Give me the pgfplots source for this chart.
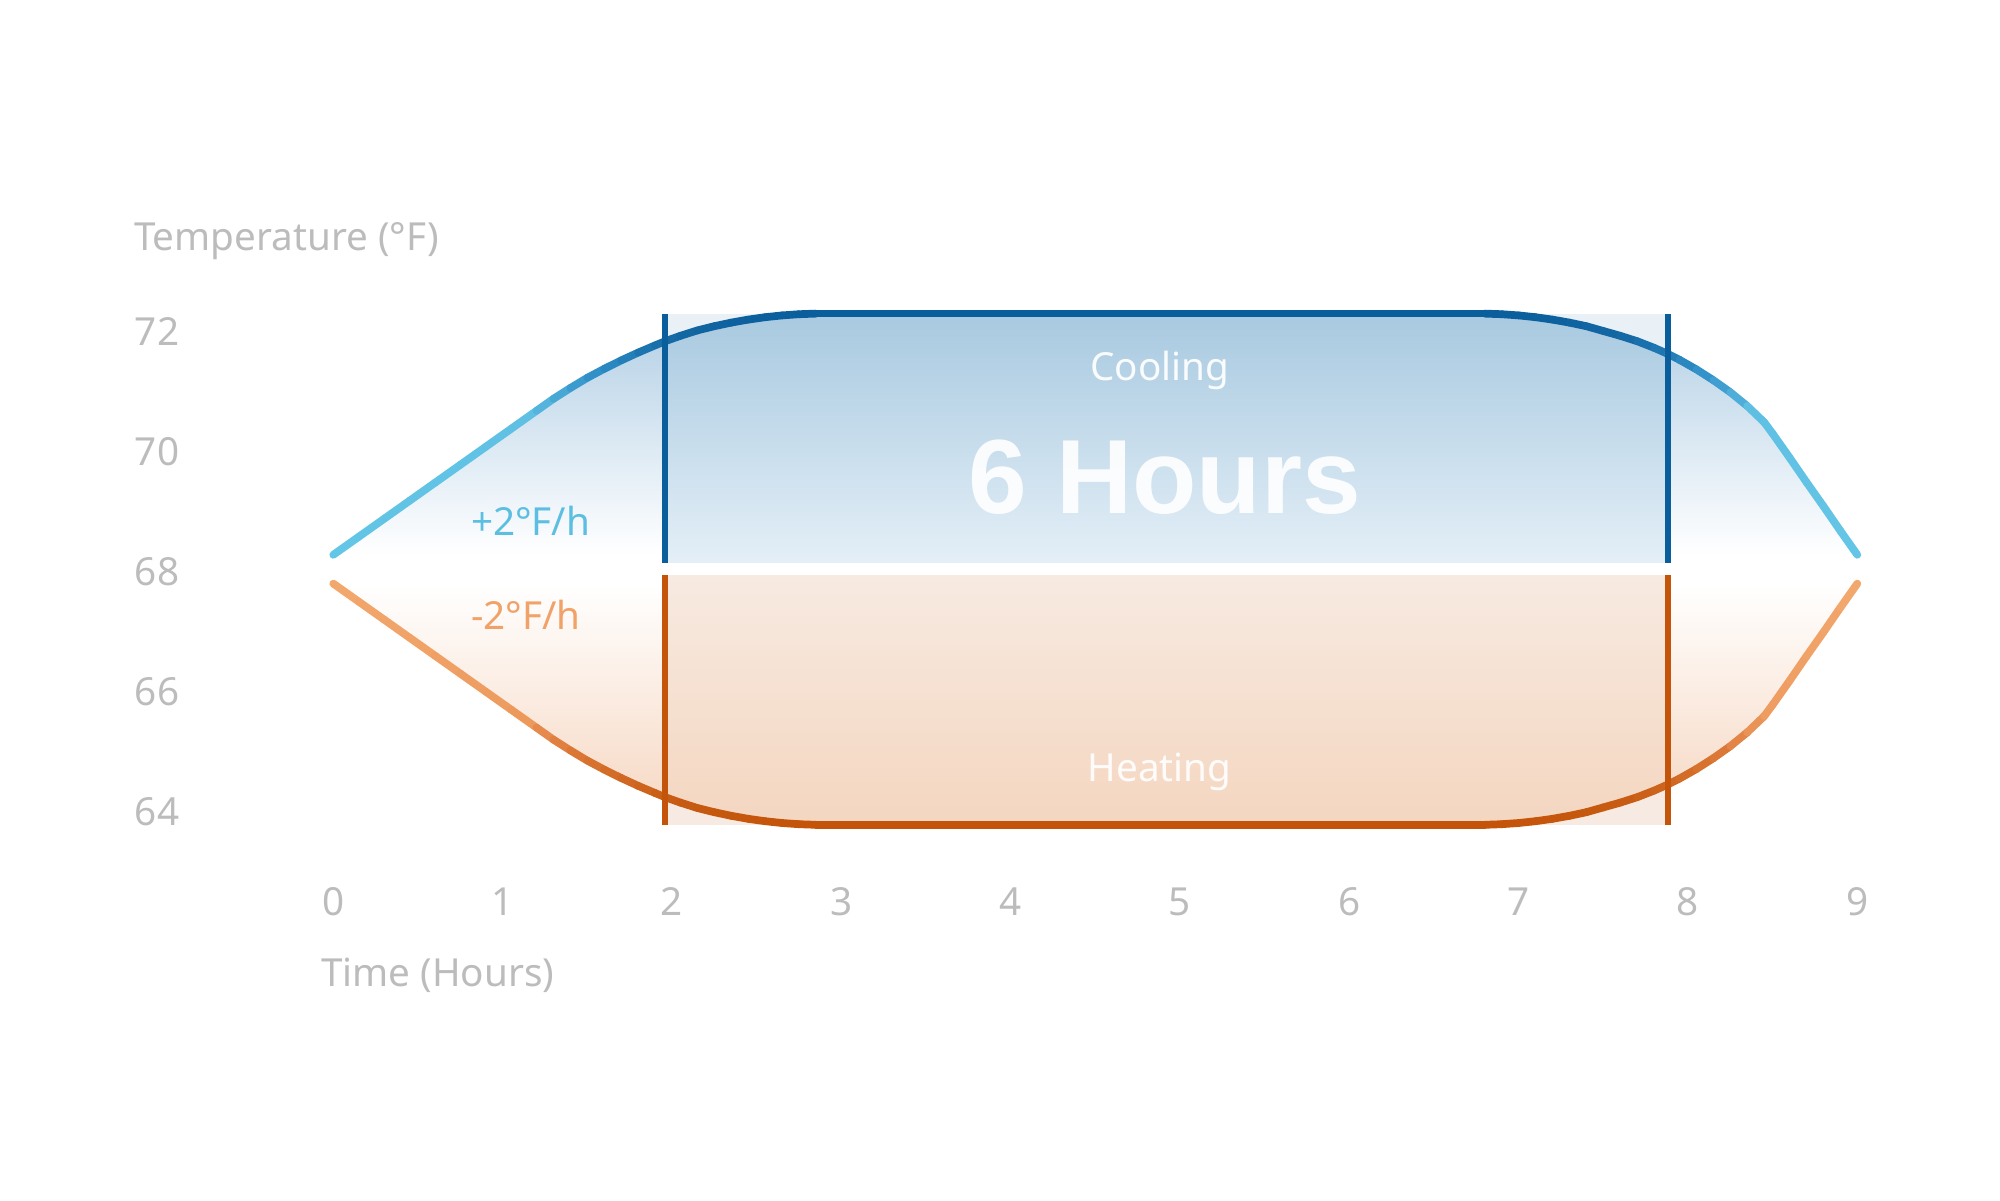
\documentclass[border=0pt]{standalone}
\usepackage{fontspec}
\setmainfont{Noto Sans}
\newfontfamily\headfont{Liberation Sans}
\usepackage{pgfplots}
\pgfplotsset{compat=1.18}

\definecolor{labelgray}{RGB}{188,188,188}
\definecolor{cooldark}{RGB}{10,94,156}
\definecolor{heatdark}{RGB}{196,84,10}
\definecolor{cooltext}{RGB}{92,190,225}
\definecolor{heattext}{RGB}{240,162,104}
\definecolor{coolsoft}{RGB}{178,207,229}
\definecolor{coolmid}{RGB}{222,236,246}
\definecolor{heatsoft}{RGB}{246,214,192}
\definecolor{heatmid}{RGB}{252,239,230}
\definecolor{coolbox}{RGB}{233,241,247}
\definecolor{heatbox}{RGB}{246,234,226}
\definecolor{cooltop}{RGB}{168,201,224}
\definecolor{coolbot}{RGB}{228,239,247}
\definecolor{heattop}{RGB}{247,234,225}
\definecolor{heatbot}{RGB}{244,214,192}

\pgfplotsset{
  colormap={coolline}{rgb255(0cm)=(100,198,230) rgb255(5.8cm)=(95,192,228) rgb255(7.5cm)=(50,145,200) rgb255(9cm)=(20,105,165) rgb255(10cm)=(10,94,156)},
  colormap={heatline}{rgb255(0cm)=(196,84,10) rgb255(1cm)=(200,92,20) rgb255(3cm)=(220,120,55) rgb255(4.5cm)=(238,155,95) rgb255(10cm)=(242,168,110)},
}

% temperature curves (hours, deg F)
\pgfplotstableread{
x y
0.00 68.28
0.15 68.58
0.30 68.88
0.45 69.18
0.60 69.48
0.75 69.78
0.90 70.08
1.05 70.38
1.20 70.68
1.30 70.88
1.40 71.06
1.50 71.23
1.60 71.38
1.70 71.52
1.80 71.65
1.90 71.77
1.96 71.84
2.05 71.93
2.15 72.02
2.25 72.09
2.35 72.15
2.45 72.20
2.55 72.24
2.65 72.27
2.75 72.29
2.85 72.30
4.85 72.30
6.80 72.30
6.90 72.29
7.00 72.27
7.10 72.24
7.20 72.20
7.30 72.15
7.40 72.09
7.50 72.01
7.60 71.93
7.70 71.84
7.80 71.73
7.88 71.63
7.95 71.53
8.05 71.37
8.15 71.19
8.25 70.99
8.35 70.76
8.45 70.49
8.50 70.30
8.60 69.90
8.70 69.49
8.80 69.09
8.90 68.68
9.00 68.28
}\cooling

\pgfplotstableread{
x y
0.00 67.80
0.15 67.50
0.30 67.20
0.45 66.90
0.60 66.60
0.75 66.30
0.90 66.00
1.05 65.70
1.20 65.40
1.30 65.20
1.40 65.02
1.50 64.85
1.60 64.70
1.70 64.56
1.80 64.43
1.90 64.31
1.96 64.24
2.05 64.15
2.15 64.06
2.25 63.99
2.35 63.93
2.45 63.88
2.55 63.84
2.65 63.81
2.75 63.79
2.85 63.78
4.85 63.78
6.80 63.78
6.90 63.79
7.00 63.81
7.10 63.84
7.20 63.88
7.30 63.93
7.40 63.99
7.50 64.07
7.60 64.15
7.70 64.24
7.80 64.35
7.88 64.45
7.95 64.55
8.05 64.71
8.15 64.89
8.25 65.09
8.35 65.32
8.45 65.59
8.50 65.78
8.60 66.18
8.70 66.59
8.80 66.99
8.90 67.40
9.00 67.80
}\heating

\begin{document}
\begin{tikzpicture}
\path[use as bounding box] (-3.333,-3.884) rectangle (16.667,8.116);
\begin{axis}[
    at={(0,0)}, anchor=south west,
    scale only axis,
    width=15.24cm, height=4.80cm,
    xmin=0, xmax=9, ymin=64, ymax=72,
    clip=false,
    axis x line*=bottom, axis y line*=left,
    axis line style={draw=none},
    tick style={draw=none},
    xtick={0,1,...,9},
    ytick={64,66,68,70,72},
    /pgf/number format/assume math mode=true,
    tick label style={font=\fontsize{11}{13}\selectfont, text=labelgray, inner sep=0pt},
    yticklabel style={anchor=west, xshift=-1.99cm},
    xticklabel style={anchor=center, yshift=-0.9cm},
]
% soft fills under the curves
\addplot[draw=none, top color=coolsoft, middle color=coolmid, bottom color=white] table[x=x, y=y] {\cooling};
\addplot[draw=none, top color=white, middle color=heatmid, bottom color=heatsoft] table[x=x, y=y] {\heating};

% six-hour boxes
\addplot[draw=none, fill=coolbox] coordinates {(1.96,68.15) (1.96,72.30) (7.88,72.30) (7.88,68.15)};
\addplot[draw=none, fill=heatbox] coordinates {(1.96,63.78) (1.96,67.94) (7.88,67.94) (7.88,63.78)};
\addplot[draw=none, top color=cooltop, bottom color=coolbot]
  coordinates {(1.96,68.15) (1.96,71.84) (2.05,71.93) (2.15,72.02) (2.25,72.09) (2.35,72.15)
  (2.45,72.20) (2.55,72.24) (2.65,72.27) (2.75,72.29) (2.85,72.30) (6.80,72.30) (6.90,72.29)
  (7.00,72.27) (7.10,72.24) (7.20,72.20) (7.30,72.15) (7.40,72.09) (7.50,72.01) (7.60,71.93)
  (7.70,71.84) (7.80,71.73) (7.88,71.63) (7.88,68.15)};
\addplot[draw=none, top color=heattop, bottom color=heatbot]
  coordinates {(1.96,67.94) (1.96,64.24) (2.05,64.15) (2.15,64.06) (2.25,63.99) (2.35,63.93)
  (2.45,63.88) (2.55,63.84) (2.65,63.81) (2.75,63.79) (2.85,63.78) (6.80,63.78) (6.90,63.79)
  (7.00,63.81) (7.10,63.84) (7.20,63.88) (7.30,63.93) (7.40,63.99) (7.50,64.07) (7.60,64.15)
  (7.70,64.24) (7.80,64.35) (7.88,64.45) (7.88,67.94)};

% curves, coloured by height
\addplot[mesh, colormap name=coolline, point meta=\thisrow{y}, point meta rel=per plot,
  point meta min=68.28, point meta max=72.3,
  line width=2.2pt, line cap=round, line join=round] table[x=x, y=y] {\cooling};
\addplot[mesh, colormap name=heatline, point meta=\thisrow{y}, point meta rel=per plot,
  point meta min=63.78, point meta max=67.8,
  line width=2.2pt, line cap=round, line join=round] table[x=x, y=y] {\heating};

% box edges
\addplot[cooldark, line width=1.7pt] coordinates {(1.96,68.15) (1.96,72.30)};
\addplot[cooldark, line width=1.7pt] coordinates {(7.88,68.15) (7.88,72.30)};
\addplot[heatdark, line width=1.7pt] coordinates {(1.96,63.78) (1.96,67.94)};
\addplot[heatdark, line width=1.7pt] coordinates {(7.88,63.78) (7.88,67.94)};

% labels
\node[anchor=base, text=white, opacity=0.92, font=\fontsize{11}{13}\selectfont] at (axis cs:4.88,71.19) {Cooling};
\node[anchor=center, text=white, opacity=0.9, font=\headfont\fontsize{30}{34}\selectfont\bfseries] at (axis cs:4.91,69.57) {6 Hours};
\node[anchor=base, text=white, opacity=0.92, font=\fontsize{11}{13}\selectfont] at (axis cs:4.88,64.51) {Heating};
\node[anchor=base west, inner sep=0pt, text=cooltext, font=\fontsize{11}{13}\selectfont] at (axis cs:0.81,68.60) {+2°F/h};
\node[anchor=base west, inner sep=0pt, text=heattext, font=\fontsize{11}{13}\selectfont] at (axis cs:0.81,67.04) {-2°F/h};
\node[anchor=base west, inner sep=0pt, text=labelgray, font=\fontsize{11}{13}\selectfont] at (axis cs:-1.18,73.36) {Temperature (°F)};
\node[anchor=base west, inner sep=0pt, text=labelgray, font=\fontsize{11}{13}\selectfont] at (axis cs:-0.075,61.09) {Time (Hours)};
\end{axis}
\end{tikzpicture}
\end{document}
